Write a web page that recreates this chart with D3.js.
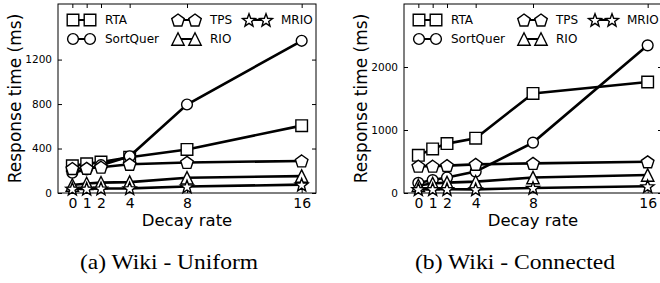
<!DOCTYPE html>
<html>
<head>
<meta charset="utf-8">
<script src="https://cdn.jsdelivr.net/npm/d3@7"></script>
<style>
  body { margin: 0; background: #fff; }
  svg { display: block; }
  .tick text { font-family: "DejaVu Sans", sans-serif; fill: #000; }
</style>
</head>
<body>
<svg width="660" height="283"></svg>
<script>
// decay rates on the x axis
var decayRates = [0, 1, 2, 4, 8, 16];

var seriesNames = ["RTA", "SortQuer", "TPS", "RIO", "MRIO"];
var seriesShapes = ["square", "circle", "pentagon", "triangle", "star"];

// (a) Wiki - Uniform
var uniformRTA = [245, 262, 278, 322, 392, 606];
var uniformSortQuer = [182, 212, 250, 330, 796, 1369];
var uniformTPS = [220, 222, 232, 258, 275, 288];
var uniformRIO = [72, 86, 93, 98, 137, 152];
var uniformMRIO = [38, 38, 40, 42, 58, 75];
var uniformYTicks = [0, 400, 800, 1200];

// (b) Wiki - Connected
var connectedRTA = [598, 700, 784, 870, 1580, 1762];
var connectedSortQuer = [160, 205, 245, 340, 800, 2344];
var connectedTPS = [425, 425, 435, 455, 470, 495];
var connectedRIO = [120, 150, 165, 180, 245, 285];
var connectedMRIO = [60, 60, 60, 58, 80, 106];
var connectedYTicks = [0, 1000, 2000];

var svg = d3.select("svg");

function markerPath(shape) {
  var line = d3.line();
  var pts = [];
  if (shape == "square") {
    var s = 5.8;
    return line([[-s, -s], [s, -s], [s, s], [-s, s]]) + "Z";
  }
  if (shape == "circle") {
    return d3.symbol(d3.symbolCircle, Math.PI * 5.4 * 5.4)();
  }
  if (shape == "triangle") {
    var t = 6.2;
    return line([[0, -t], [t, t], [-t, t]]) + "Z";
  }
  if (shape == "pentagon") {
    for (var i = 0; i < 5; i++) {
      var a = -Math.PI / 2 + i * 2 * Math.PI / 5;
      pts.push([6.6 * Math.cos(a), 6.6 * Math.sin(a) + 0.6]);
    }
    return line(pts) + "Z";
  }
  // star
  for (var j = 0; j < 10; j++) {
    var b = -Math.PI / 2 + j * Math.PI / 5;
    var rr = j % 2 ? 6.8 * 0.42 : 6.8;
    pts.push([rr * Math.cos(b), rr * Math.sin(b) + 0.6]);
  }
  return line(pts) + "Z";
}

function drawPanel(left, series, yMax, yTicks, caption, captionWidth) {
  var w = 258, top = 4, bottom = 193;
  var x = d3.scaleLinear().domain([-1, 17]).range([left, left + w]);
  var y = d3.scaleLinear().domain([0, yMax]).range([bottom, top]);

  var g = svg.append("g");

  // axes, ticks pointing inward
  g.append("g").attr("transform", "translate(0," + bottom + ")")
    .call(d3.axisBottom(x).tickValues(decayRates).tickSize(-4).tickPadding(5))
    .call(function (a) {
      a.select(".domain").remove();
      a.selectAll("text").style("font-size", "14px");
    });
  g.append("g").attr("transform", "translate(0," + top + ")")
    .call(d3.axisTop(x).tickValues(decayRates).tickSize(-4).tickFormat(""))
    .call(function (a) { a.select(".domain").remove(); });
  g.append("g").attr("transform", "translate(" + left + ",0)")
    .call(d3.axisLeft(y).tickValues(yTicks).tickSize(-4).tickPadding(6).tickFormat(d3.format("d")))
    .call(function (a) {
      a.select(".domain").remove();
      a.selectAll("text").style("font-size", "10.5px");
    });
  g.append("g").attr("transform", "translate(" + (left + w) + ",0)")
    .call(d3.axisRight(y).tickValues(yTicks).tickSize(-4).tickFormat(""))
    .call(function (a) { a.select(".domain").remove(); });

  g.append("rect")
    .attr("x", left).attr("y", top)
    .attr("width", w).attr("height", bottom - top)
    .attr("fill", "none").attr("stroke", "#000").attr("stroke-width", 1);

  var line = d3.line()
    .x(function (d, i) { return x(decayRates[i]); })
    .y(function (d) { return y(d); });

  series.forEach(function (vals, k) {
    var sg = g.append("g");
    sg.append("path")
      .attr("d", line(vals))
      .attr("fill", "none").attr("stroke", "#000").attr("stroke-width", 2.6);
    sg.selectAll("path.m").data(vals).enter().append("path")
      .attr("class", "m")
      .attr("d", markerPath(seriesShapes[k]))
      .attr("transform", function (d, i) { return "translate(" + x(decayRates[i]) + "," + y(d) + ")"; })
      .attr("fill", "#fff").attr("stroke", "#000").attr("stroke-width", 1.4);
  });

  // legend, 3 columns filled column-wise
  var colX = [15, 120, 191];
  var rowY = [20, 39];
  seriesNames.forEach(function (name, k) {
    var cx = left + colX[Math.floor(k / 2)], cy = rowY[k % 2];
    var lg = g.append("g");
    lg.append("line")
      .attr("x1", cx).attr("x2", cx + 17).attr("y1", cy).attr("y2", cy)
      .attr("stroke", "#000").attr("stroke-width", 2);
    [cx, cx + 17].forEach(function (mx) {
      lg.append("path")
        .attr("d", markerPath(seriesShapes[k]))
        .attr("transform", "translate(" + mx + "," + cy + ")")
        .attr("fill", "#fff").attr("stroke", "#000").attr("stroke-width", 1.4);
    });
    lg.append("text")
      .attr("x", cx + 32).attr("y", cy)
      .attr("dy", "0.36em")
      .style("font-family", "DejaVu Sans, sans-serif")
      .style("font-size", "12px")
      .text(name);
  });

  g.append("text")
    .attr("x", left + w / 2).attr("y", 226)
    .attr("text-anchor", "middle")
    .style("font-family", "DejaVu Sans, sans-serif")
    .style("font-size", "16.5px")
    .text("Decay rate");

  g.append("text")
    .attr("transform", "translate(" + (left - 43) + "," + ((top + bottom) / 2) + ") rotate(-90)")
    .attr("text-anchor", "middle")
    .attr("dy", "0.35em")
    .style("font-family", "DejaVu Sans, sans-serif")
    .style("font-size", "17px")
    .text("Response time (ms)");

  g.append("text")
    .attr("x", left + w / 2 - 18).attr("y", 269)
    .attr("text-anchor", "middle")
    .attr("textLength", captionWidth)
    .attr("lengthAdjust", "spacingAndGlyphs")
    .style("font-family", "Liberation Serif, serif")
    .style("font-size", "21px")
    .text(caption);
}

drawPanel(58,
  [uniformRTA, uniformSortQuer, uniformTPS, uniformRIO, uniformMRIO],
  1700, uniformYTicks, "(a) Wiki - Uniform", 178);
drawPanel(404,
  [connectedRTA, connectedSortQuer, connectedTPS, connectedRIO, connectedMRIO],
  3000, connectedYTicks, "(b) Wiki - Connected", 200);
</script>
</body>
</html>
